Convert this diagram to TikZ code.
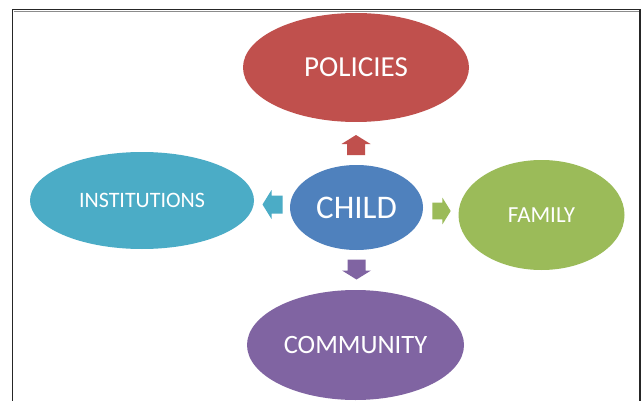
\documentclass[tikz,border=0pt]{standalone}
\usepackage{fontspec}
\setmainfont{Carlito}
\usetikzlibrary{shapes.geometric}

\definecolor{cRed}{HTML}{C0504D}
\definecolor{cBlue}{HTML}{4F81BD}
\definecolor{cTeal}{HTML}{4BACC6}
\definecolor{cGreen}{HTML}{9BBB59}
\definecolor{cPurple}{HTML}{8064A2}

\tikzset{
  bubble/.style={ellipse, inner sep=0pt, text=white, font=#1},
  % block arrow pointing along +x, centred on the origin
  pics/blockarrow/.style={code={
    \fill (-10,-9) -- (1,-9) -- (1,-14.5) -- (10,0) -- (1,14.5) -- (1,9) -- (-10,9) -- cycle;
  }},
}

\begin{document}
\begin{tikzpicture}[x=1pt, y=-1pt]
  \useasboundingbox (0,0) rectangle (642,401);
  \fill[white] (0,0) rectangle (642,401);

  % page frame
  \draw[black!45, line width=0.8pt] (13.5,11) -- (639,11);
  \draw[black!85, line width=1.2pt] (12.5,402) -- (12.5,9.5) -- (640,9.5) -- (640,402);

  % the five bubbles
  \node[bubble={\fontsize{29}{29}\selectfont}, fill=cRed,
        minimum width=226pt, minimum height=109pt] (policies) at (356,67.5) {POLICIES};
  \node[bubble={\fontsize{33}{33}\selectfont}, fill=cBlue,
        minimum width=133pt, minimum height=85pt] (child) at (356.5,207.5) {CHILD};
  \node[bubble={\fontsize{22}{22}\selectfont}, fill=cTeal,
        minimum width=224pt, minimum height=97pt] (institutions) at (142,200.5) {INSTITUTIONS};
  \node[bubble={\fontsize{23}{23}\selectfont}, fill=cGreen,
        minimum width=166pt, minimum height=110pt] (family) at (541.5,215) {FAMILY};
  \node[bubble={\fontsize{26.5}{26.5}\selectfont}, fill=cPurple,
        minimum width=217pt, minimum height=110pt] (community) at (355.5,345) {COMMUNITY};

  % block arrows from the centre outwards
  \pic[fill=cRed, rotate=90] at (356,145) {blockarrow};
  \pic[fill=cTeal, rotate=180] at (272.5,204.5) {blockarrow};
  \pic[fill=cGreen, scale=0.92] at (441.5,211) {blockarrow};
  \pic[fill=cPurple, rotate=-90] at (356.5,269.5) {blockarrow};
\end{tikzpicture}
\end{document}
